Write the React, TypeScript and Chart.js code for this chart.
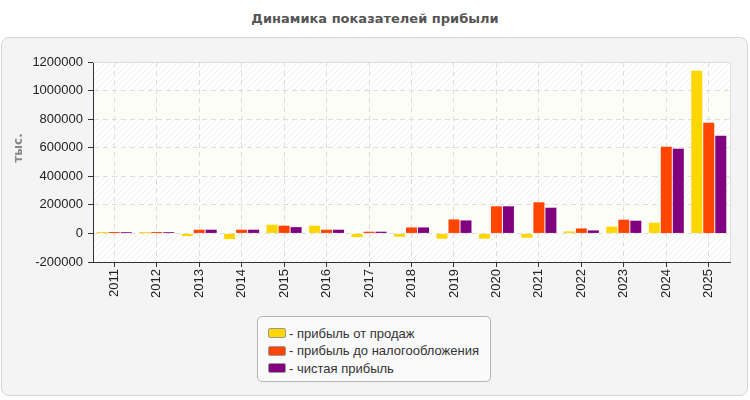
import React, { useEffect, useRef } from 'react';
import { Chart, registerables } from 'chart.js';

Chart.register(...registerables);

// значения, тыс.
const years = ['2011', '2012', '2013', '2014', '2015', '2016', '2017', '2018', '2019', '2020', '2021', '2022', '2023', '2024', '2025'];
const salesProfit = [10000, 10000, -19000, -40000, 61000, 54000, -26000, -23000, -37000, -37000, -30000, 14000, 47000, 75000, 1139000];
const pretaxProfit = [10000, 10000, 26000, 26000, 54000, 26000, 12000, 42000, 98000, 190000, 218000, 35000, 96000, 607000, 775000];
const netProfit = [9000, 9000, 26000, 26000, 44000, 26000, 12000, 42000, 91000, 190000, 180000, 21000, 89000, 593000, 684000];

const seriesNames = ['прибыль от продаж', 'прибыль до налогообложения', 'чистая прибыль'];
const seriesColors = ['#FFD700', '#FF4500', '#800080'];

const yMin = -200000;
const yMax = 1200000;
const yStep = 200000;

const FONT = '"Liberation Sans", Arial, sans-serif';

// hatch pattern for the plot background
const makeHatch = () => {
  const c = document.createElement('canvas');
  c.width = 6;
  c.height = 6;
  const g = c.getContext('2d');
  g.fillStyle = '#ffffff';
  g.fillRect(0, 0, 6, 6);
  g.strokeStyle = '#efefef';
  g.lineWidth = 1;
  g.beginPath();
  g.moveTo(0, 6);
  g.lineTo(6, 0);
  g.moveTo(-1, 1);
  g.lineTo(1, -1);
  g.moveTo(5, 7);
  g.lineTo(7, 5);
  g.stroke();
  return g.createPattern(c, 'repeat');
};

const plotBackground = {
  id: 'plotBackground',
  beforeDraw(chart) {
    const { ctx, chartArea: a, scales } = chart;
    const y = scales.y;
    ctx.save();
    ctx.fillStyle = makeHatch();
    ctx.fillRect(a.left, a.top, a.right - a.left, a.bottom - a.top);
    // plain bands
    ctx.fillStyle = '#fdfdf7';
    for (let v = yMin + yStep; v < yMax; v += 2 * yStep) {
      const top = y.getPixelForValue(v + yStep);
      const bottom = y.getPixelForValue(v);
      ctx.fillRect(a.left, top, a.right - a.left, bottom - top);
    }
    ctx.restore();
  },
  beforeDatasetsDraw(chart) {
    const { ctx, chartArea: a } = chart;
    ctx.save();
    ctx.strokeStyle = '#dddddd';
    ctx.lineWidth = 1;
    ctx.beginPath();
    ctx.moveTo(a.left, a.top + 0.5);
    ctx.lineTo(a.right + 0.5, a.top + 0.5);
    ctx.lineTo(a.right + 0.5, a.bottom);
    ctx.stroke();
    ctx.restore();
  },
  afterDraw(chart) {
    const { ctx } = chart;
    ctx.save();
    ctx.translate(19, 148);
    ctx.rotate(-Math.PI / 2);
    ctx.font = 'bold 12px "DejaVu Sans", sans-serif';
    ctx.fillStyle = '#888888';
    ctx.textAlign = 'center';
    ctx.textBaseline = 'middle';
    ctx.fillText('тыс.', 0, 0);
    ctx.restore();
  },
};

const ProfitChart = () => {
  const chartRef = useRef(null);
  const chartInstanceRef = useRef(null);

  useEffect(() => {
    const ctx = chartRef.current.getContext('2d');
    const values = [salesProfit, pretaxProfit, netProfit];

    chartInstanceRef.current = new Chart(ctx, {
      type: 'bar',
      data: {
        labels: years,
        datasets: values.map((data, i) => ({
          label: seriesNames[i],
          data: data,
          backgroundColor: seriesColors[i],
          borderWidth: 0,
          categoryPercentage: 0.848,
          barPercentage: 0.917,
        })),
      },
      options: {
        animation: false,
        responsive: false,
        devicePixelRatio: 1,
        layout: { padding: { left: 0, top: 62, right: 20, bottom: 0 } },
        plugins: {
          legend: { display: false },
          title: { display: false },
          tooltip: { enabled: false },
        },
        scales: {
          x: {
            afterFit: (scale) => { scale.height = 138; },
            grid: { offset: false, color: '#dddddd', tickColor: '#333333', tickLength: 5, tickBorderDash: [] },
            border: { color: '#333333', width: 1, dash: [5, 4] },
            ticks: {
              minRotation: 90,
              maxRotation: 90,
              padding: 2,
              color: '#222222',
              font: { family: FONT, size: 13 },
            },
          },
          y: {
            min: yMin,
            max: yMax,
            afterFit: (scale) => { scale.width = 93; },
            grid: { color: '#dddddd', tickColor: '#333333', tickLength: 5, tickBorderDash: [] },
            border: { color: '#333333', width: 1, dash: [5, 4] },
            ticks: {
              stepSize: yStep,
              padding: 5,
              color: '#222222',
              font: { family: FONT, size: 13 },
              callback: (v) => String(v),
            },
          },
        },
      },
      plugins: [plotBackground],
    });

    return () => {
      if (chartInstanceRef.current) {
        chartInstanceRef.current.destroy();
      }
    };
  }, []);

  return (
    <div style={{ position: 'fixed', left: 0, top: 0, width: 750, height: 400, background: '#ffffff', overflow: 'hidden' }}>
      <div style={{
        position: 'absolute', left: 0, top: 11, width: 750, textAlign: 'center',
        font: 'bold 13px "DejaVu Sans", sans-serif', color: '#555555',
      }}>
        Динамика показателей прибыли
      </div>
      <div style={{
        position: 'absolute', left: 1, top: 37, width: 745, height: 357,
        border: '1px solid #d6d6d6', borderRadius: 8, background: '#f4f4f4',
        boxShadow: '1px 1px 0 #ffffff',
      }} />
      <canvas ref={chartRef} width={750} height={400}
        style={{ position: 'absolute', left: 0, top: 0, width: 750, height: 400 }} />
      <div style={{
        position: 'absolute', left: 257, top: 316, width: 232, height: 64,
        border: '1px solid #b4b4b4', borderRadius: 5, background: '#fafafa',
      }}>
        {seriesNames.map((name, i) => (
          <div key={name} style={{
            position: 'absolute', left: 10, top: 8 + i * 17.5, height: 16,
            display: 'flex', alignItems: 'center', whiteSpace: 'nowrap',
            font: '13px ' + FONT, color: '#333333',
          }}>
            <span style={{
              display: 'inline-block', width: 16, height: 8, marginRight: 3,
              background: seriesColors[i], border: '1px solid #999999', borderRadius: 2,
            }} />
            {'- ' + name}
          </div>
        ))}
      </div>
    </div>
  );
};

export default function App() {
  return <ProfitChart />;
}
